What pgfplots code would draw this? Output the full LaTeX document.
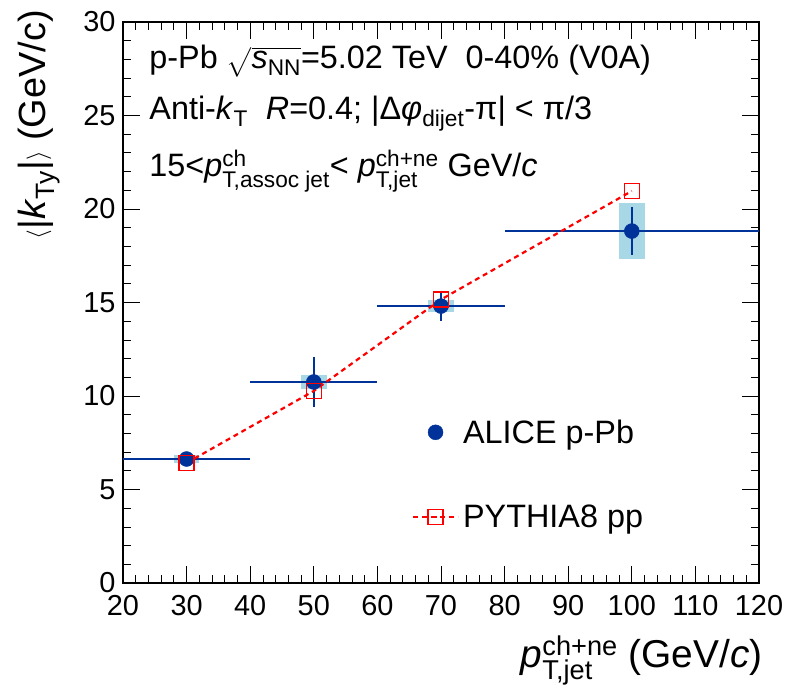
\documentclass[border=0pt]{standalone}
\usepackage{fontspec}
\setmainfont{Liberation Sans}
\usepackage{amsmath}
\usepackage{pgfplots}
\pgfplotsset{compat=1.18}
\definecolor{alice}{RGB}{0,51,153}
\definecolor{sysb}{RGB}{168,216,230}
\definecolor{pyred}{RGB}{255,0,0}
\begin{document}
\begin{tikzpicture}
\begin{axis}[name=ax, scale only axis, width=636bp, height=561bp,
  xmin=20, xmax=120, ymin=0, ymax=30,
  xtick={20,30,...,120}, ytick={0,5,...,30},
  minor x tick num=4, minor y tick num=4,
  tick align=inside, major tick length=17bp, minor tick length=8.5bp,
  every tick/.style={black, line width=0.8bp},
  axis line style={line width=1.2bp},
  /pgf/number format/assume math mode=true,
  ticklabel style={font=\fontsize{29}{33}\selectfont},
  xticklabel style={yshift=-9bp},
  yticklabel style={xshift=-4bp},
  xlabel={$\textit{p}^{\text{ch+ne}}_{\text{T,jet}}$ (GeV/\textit{c})},
  xlabel style={font=\fontsize{39}{44}\selectfont, at={(axis description cs:1,0)}, anchor=base east, yshift=-84bp, xshift=7bp},
  ylabel={$\langle$|\textit{k}$_{\text{Ty}}$|$\rangle$ (GeV/c)},
  ylabel style={font=\fontsize{38}{44}\selectfont, at={(axis description cs:-0.1226,1.027)}, anchor=base east},
  legend image code/.code={\draw[mark repeat=2,mark phase=2,#1] plot coordinates {(0bp,0bp) (22.5bp,0bp) (45bp,0bp)};},
  legend style={at={(axis cs:65.4,8.95)}, anchor=north west, draw=none, fill=none,
    font=\fontsize{32.5}{38}\selectfont, row sep=52bp, inner sep=0pt, nodes={inner sep=4bp}},
  legend cell align=left,
]
% systematic boxes
\addplot[forget plot, only marks, mark=none,
  error bars/.cd, y dir=both, y explicit, error mark=none,
  error bar style={line width=25.4bp, color=sysb, line cap=butt}]
  coordinates {(30,6.63) +- (0,0.2) (50,10.75) +- (0,0.38) (70,14.81) +- (0,0.3) (100,18.82) +- (0,1.5)};
% ALICE data
\addplot[alice, only marks, mark=*, mark size=7.5bp, mark options={fill=alice, draw=alice},
  error bars/.cd, x dir=both, x explicit, y dir=both, y explicit, error mark=none,
  error bar style={line width=2bp, color=alice}]
  coordinates {(30,6.63) +- (10,0.2) (50,10.75) +- (10,1.34) (70,14.81) +- (10,0.8) (100,18.82) +- (20,1.3)};
\addlegendentry{ALICE p-Pb}
% PYTHIA
\addplot[pyred, line width=2.2bp, dash pattern=on 5bp off 4bp, mark=square, mark size=7.5bp,
  mark options={solid, line width=1.2bp, fill=none}]
  coordinates {(30,6.42) (50,10.27) (70,15.16) (100,20.96)};
\addlegendentry{PYTHIA8 pp}
\node[anchor=base west, font=\fontsize{32.5}{38}\selectfont] at (axis cs:23.6,27.49)
  {p-Pb $\sqrt{\textit{s}_{\text{NN}}}$=5.02 TeV\ \ 0-40\% (V0A)};
\node[anchor=base west, font=\fontsize{32.5}{38}\selectfont] at (axis cs:23.6,24.81)
  {Anti-\textit{k}$_{\text{T}}$\ \ \textit{R}=0.4; |Δ\textit{φ}$_{\text{dijet}}$-π| < π/3};
\node[anchor=base west, font=\fontsize{32.5}{38}\selectfont] at (axis cs:23.6,21.76)
  {15<$\textit{p}^{\text{ch}}_{\text{T,assoc jet}}$< $\textit{p}^{\text{ch+ne}}_{\text{T,jet}}$ GeV/\textit{c}};
\end{axis}
\pgfresetboundingbox
\path[use as bounding box] (ax.south west) ++(-123bp,-109bp) rectangle ++(788bp,692bp);
\end{tikzpicture}
\end{document}
